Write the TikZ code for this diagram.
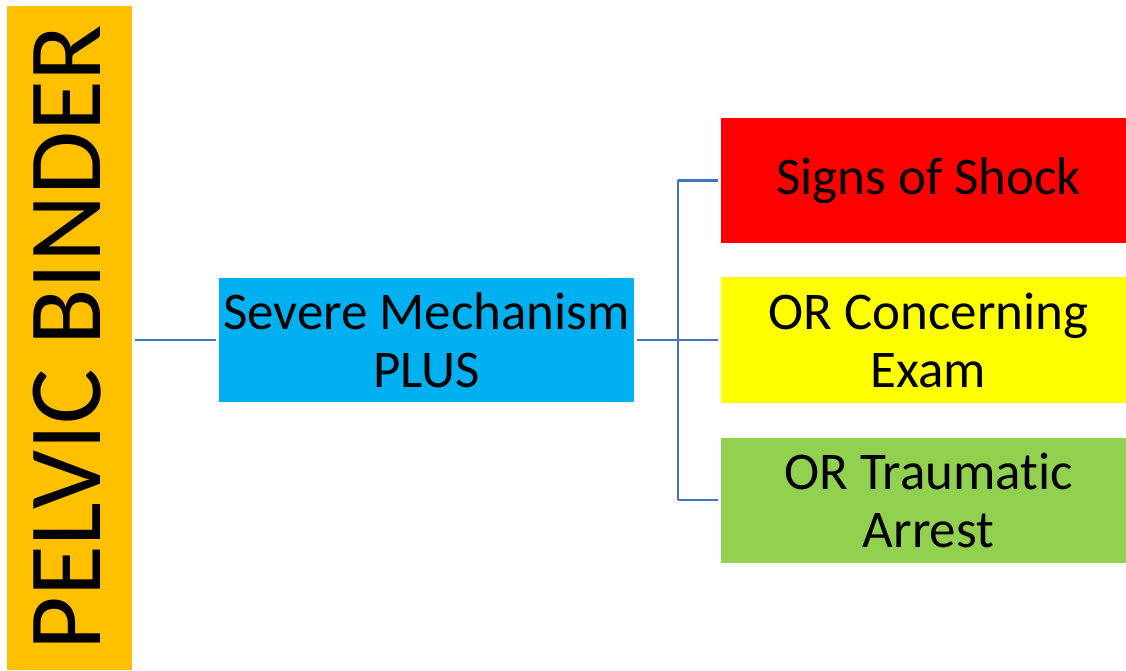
\documentclass[tikz,border=0pt]{standalone}
\usepackage{fontspec}
\setmainfont{Carlito}[Ligatures=NoCommon]
\definecolor{barorange}{HTML}{FFC000}
\definecolor{boxblue}{HTML}{00B0F0}
\definecolor{boxred}{HTML}{FF0000}
\definecolor{boxyellow}{HTML}{FFFF00}
\definecolor{boxgreen}{HTML}{92D050}
\definecolor{linkblue}{HTML}{4472C4}
\begin{document}
\begin{tikzpicture}[x=1pt,y=1pt,
  box/.style={minimum width=405pt,minimum height=125pt,inner sep=0pt,align=center,
    font=\fontsize{53}{58}\selectfont},
  link/.style={draw=linkblue,line width=2.5pt,shorten <=3pt,shorten >=3pt}]
\useasboundingbox (0,0) rectangle (1126,670);
\node[fill=barorange,minimum width=125pt,minimum height=664pt,inner sep=0pt] (bar) at (69.5,332) {};
\node[rotate=90,font=\fontsize{104}{110}\selectfont,inner sep=0pt] (bartext) at (67,332.5) {PELVIC BINDER};
\node[box,fill=boxblue,minimum width=415pt,minimum height=124pt] (sev) at (426.5,330) {Severe Mechanism\\PLUS};
\node[box,fill=boxred] (shock) at (923.5,489.5) {\hspace*{10pt}Signs of Shock};
\node[box,fill=boxyellow] (exam) at (923.5,330) {\hspace*{10pt}OR Concerning\\\hspace*{10pt}Exam};
\node[box,fill=boxgreen] (arrest) at (923.5,170) {\hspace*{10pt}OR Traumatic\\\hspace*{10pt}Arrest};
\coordinate (j) at (678,330);
\draw[link] (bar.east|-sev.west) -- (sev.west);
\draw[link,shorten >=0pt] (sev.east) -- (j);
\draw[draw=linkblue,line width=2.5pt] (678,490) -- (678,170);
\draw[link,shorten <=0pt] (j) -- (exam.west);
\draw[link,shorten <=0pt] (j|-shock.west) -- (shock.west);
\draw[link,shorten <=0pt] (j|-arrest.west) -- (arrest.west);
\end{tikzpicture}
\end{document}
